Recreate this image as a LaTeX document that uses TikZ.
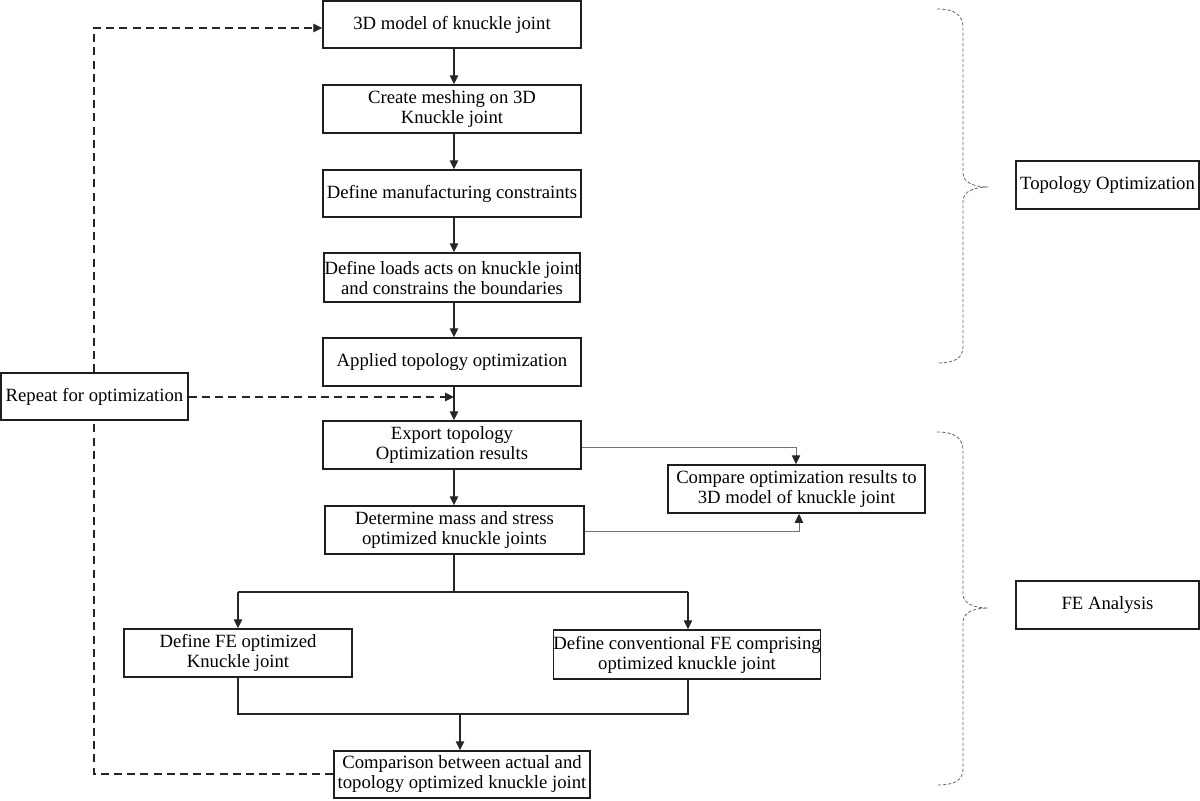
\documentclass[tikz,border=0pt]{standalone}
\usepackage{fontspec}
\setmainfont{Liberation Serif}
\usetikzlibrary{arrows.meta,calc}
\begin{document}
\begin{tikzpicture}[x=0.5pt,y=-0.5pt,
  box/.style={draw=black!88,line width=0.75pt,rectangle,inner sep=0pt,align=center,
    font=\fontsize{9.35}{10}\selectfont,text=black},
  arr/.style={draw=black!85,line width=0.7pt,-{Triangle[length=4.5pt,width=4.2pt]}},
  ln/.style={draw=black!85,line width=0.7pt},
  thinarr/.style={draw=black!55,line width=0.5pt,-{Triangle[length=4.5pt,width=4.2pt,color=black!85]}},
  dsh/.style={draw=black!85,line width=0.7pt,dash pattern=on 4pt off 2.6pt},
  dsharr/.style={dsh,-{Triangle[length=4.5pt,width=4.2pt]}},
  bracest/.style={draw=black!60,line width=0.4pt,dash pattern=on 1.6pt off 1pt}]
\useasboundingbox (0,0) rectangle (1200,800);
% main column
\node[box,minimum width=129pt,minimum height=23.5pt] (b1) at (452,24.5) {3D model of knuckle joint};
\node[box,minimum width=129pt,minimum height=24pt] (b2) at (452,109) {Create meshing on 3D\\Knuckle joint};
\node[box,minimum width=129pt,minimum height=23.5pt] (b3) at (452,193.5) {Define manufacturing constraints};
\node[box,minimum width=128pt,minimum height=24.5pt] (b4) at (452,277.5) {Define loads acts on knuckle joint\\and constrains the boundaries};
\node[box,minimum width=129pt,minimum height=24pt] (b5) at (452,362) {Applied topology optimization};
\node[box,minimum width=129pt,minimum height=24pt] (b6) at (452,445) {Export topology\\Optimization results};
\node[box,minimum width=129.5pt,minimum height=24pt] (b7) at (454.5,530) {Determine mass and stress\\optimized knuckle joints};
\node[box,minimum width=128.5pt,minimum height=24pt] (cmp) at (796.5,489) {Compare optimization results to\\3D model of knuckle joint};
\node[box,minimum width=114pt,minimum height=24pt] (fe1) at (238,653) {Define FE optimized\\Knuckle joint};
\node[box,minimum width=131pt,minimum height=24.5pt] (fe2) at (687,654.5) {Define conventional FE comprising\\optimized knuckle joint};
\node[box,minimum width=128pt,minimum height=23.5pt] (fin) at (462,774.5) {Comparison between actual and\\topology optimized knuckle joint};
\node[box,minimum width=93.5pt,minimum height=23.5pt] (rep) at (94.5,396.5) {Repeat for optimization};
\node[box,minimum width=91.5pt,minimum height=24pt] (topo) at (1107.5,185) {Topology Optimization};
\node[box,minimum width=91.5pt,minimum height=24pt] (fea) at (1107.5,605) {FE Analysis};
% coordinates
\coordinate (j5) at (454,397);
\coordinate (s7) at (454,592);
\coordinate (sL) at (238,592);
\coordinate (sR) at (688,592);
\coordinate (mL) at (238,714);
\coordinate (mR) at (688,714);
\coordinate (mC) at (460,714);
\coordinate (c6) at (796,447);
\coordinate (c7) at (799,531);
\coordinate (dB) at (94,774);
\coordinate (dT) at (94,28);
% main arrows
\draw[arr] (b1.south -| 454,0) -- (b2.north -| 454,0);
\draw[arr] (b2.south -| 454,0) -- (b3.north -| 454,0);
\draw[arr] (b3.south -| 454,0) -- (b4.north -| 454,0);
\draw[arr] (b4.south -| 454,0) -- (b5.north -| 454,0);
\draw[arr] (b5.south -| 454,0) -- (b6.north -| 454,0);
\draw[arr] (b6.south -| 454,0) -- (b7.north -| 454,0);
% split
\draw[ln] (b7.south -| s7) -- (s7);
\draw[ln] (sL) -- (sR);
\draw[arr] (sL) -- (fe1.north -| sL);
\draw[arr] (sR) -- (fe2.north -| sR);
\draw[ln] (fe1.south -| mL) -- (mL) -- (mR) -- (fe2.south -| mR);
\draw[arr] (mC) -- (fin.north -| mC);
% compare
\draw[thinarr] (b6.east |- c6) -- (c6) -- (cmp.north -| c6);
\draw[thinarr] (b7.east |- c7) -- (c7) -- (cmp.south -| c7);
% dashed loop
\draw[dsharr] (rep.east |- j5) -- (j5);
\draw[dsh] (fin.west |- dB) -- (dB) -- (rep.south -| dB);
\draw[dsharr] (rep.north -| dT) -- (dT) -- (b1.west |- dT);
% braces
\draw[bracest] (937,9) .. controls (955,9) and (963,15) .. (963,28) -- (963,173)
  .. controls (963,183) and (975,187) .. (988,187)
  .. controls (975,187) and (963,191) .. (963,201) -- (963,347)
  .. controls (963,358) and (955,363) .. (937,363);
\draw[bracest] (937,432) .. controls (955,432) and (963,438) .. (963,451) -- (963,594)
  .. controls (963,604) and (975,608) .. (988,608)
  .. controls (975,608) and (963,612) .. (963,622) -- (963,769)
  .. controls (963,780) and (955,785) .. (937,785);
\end{tikzpicture}
\end{document}
